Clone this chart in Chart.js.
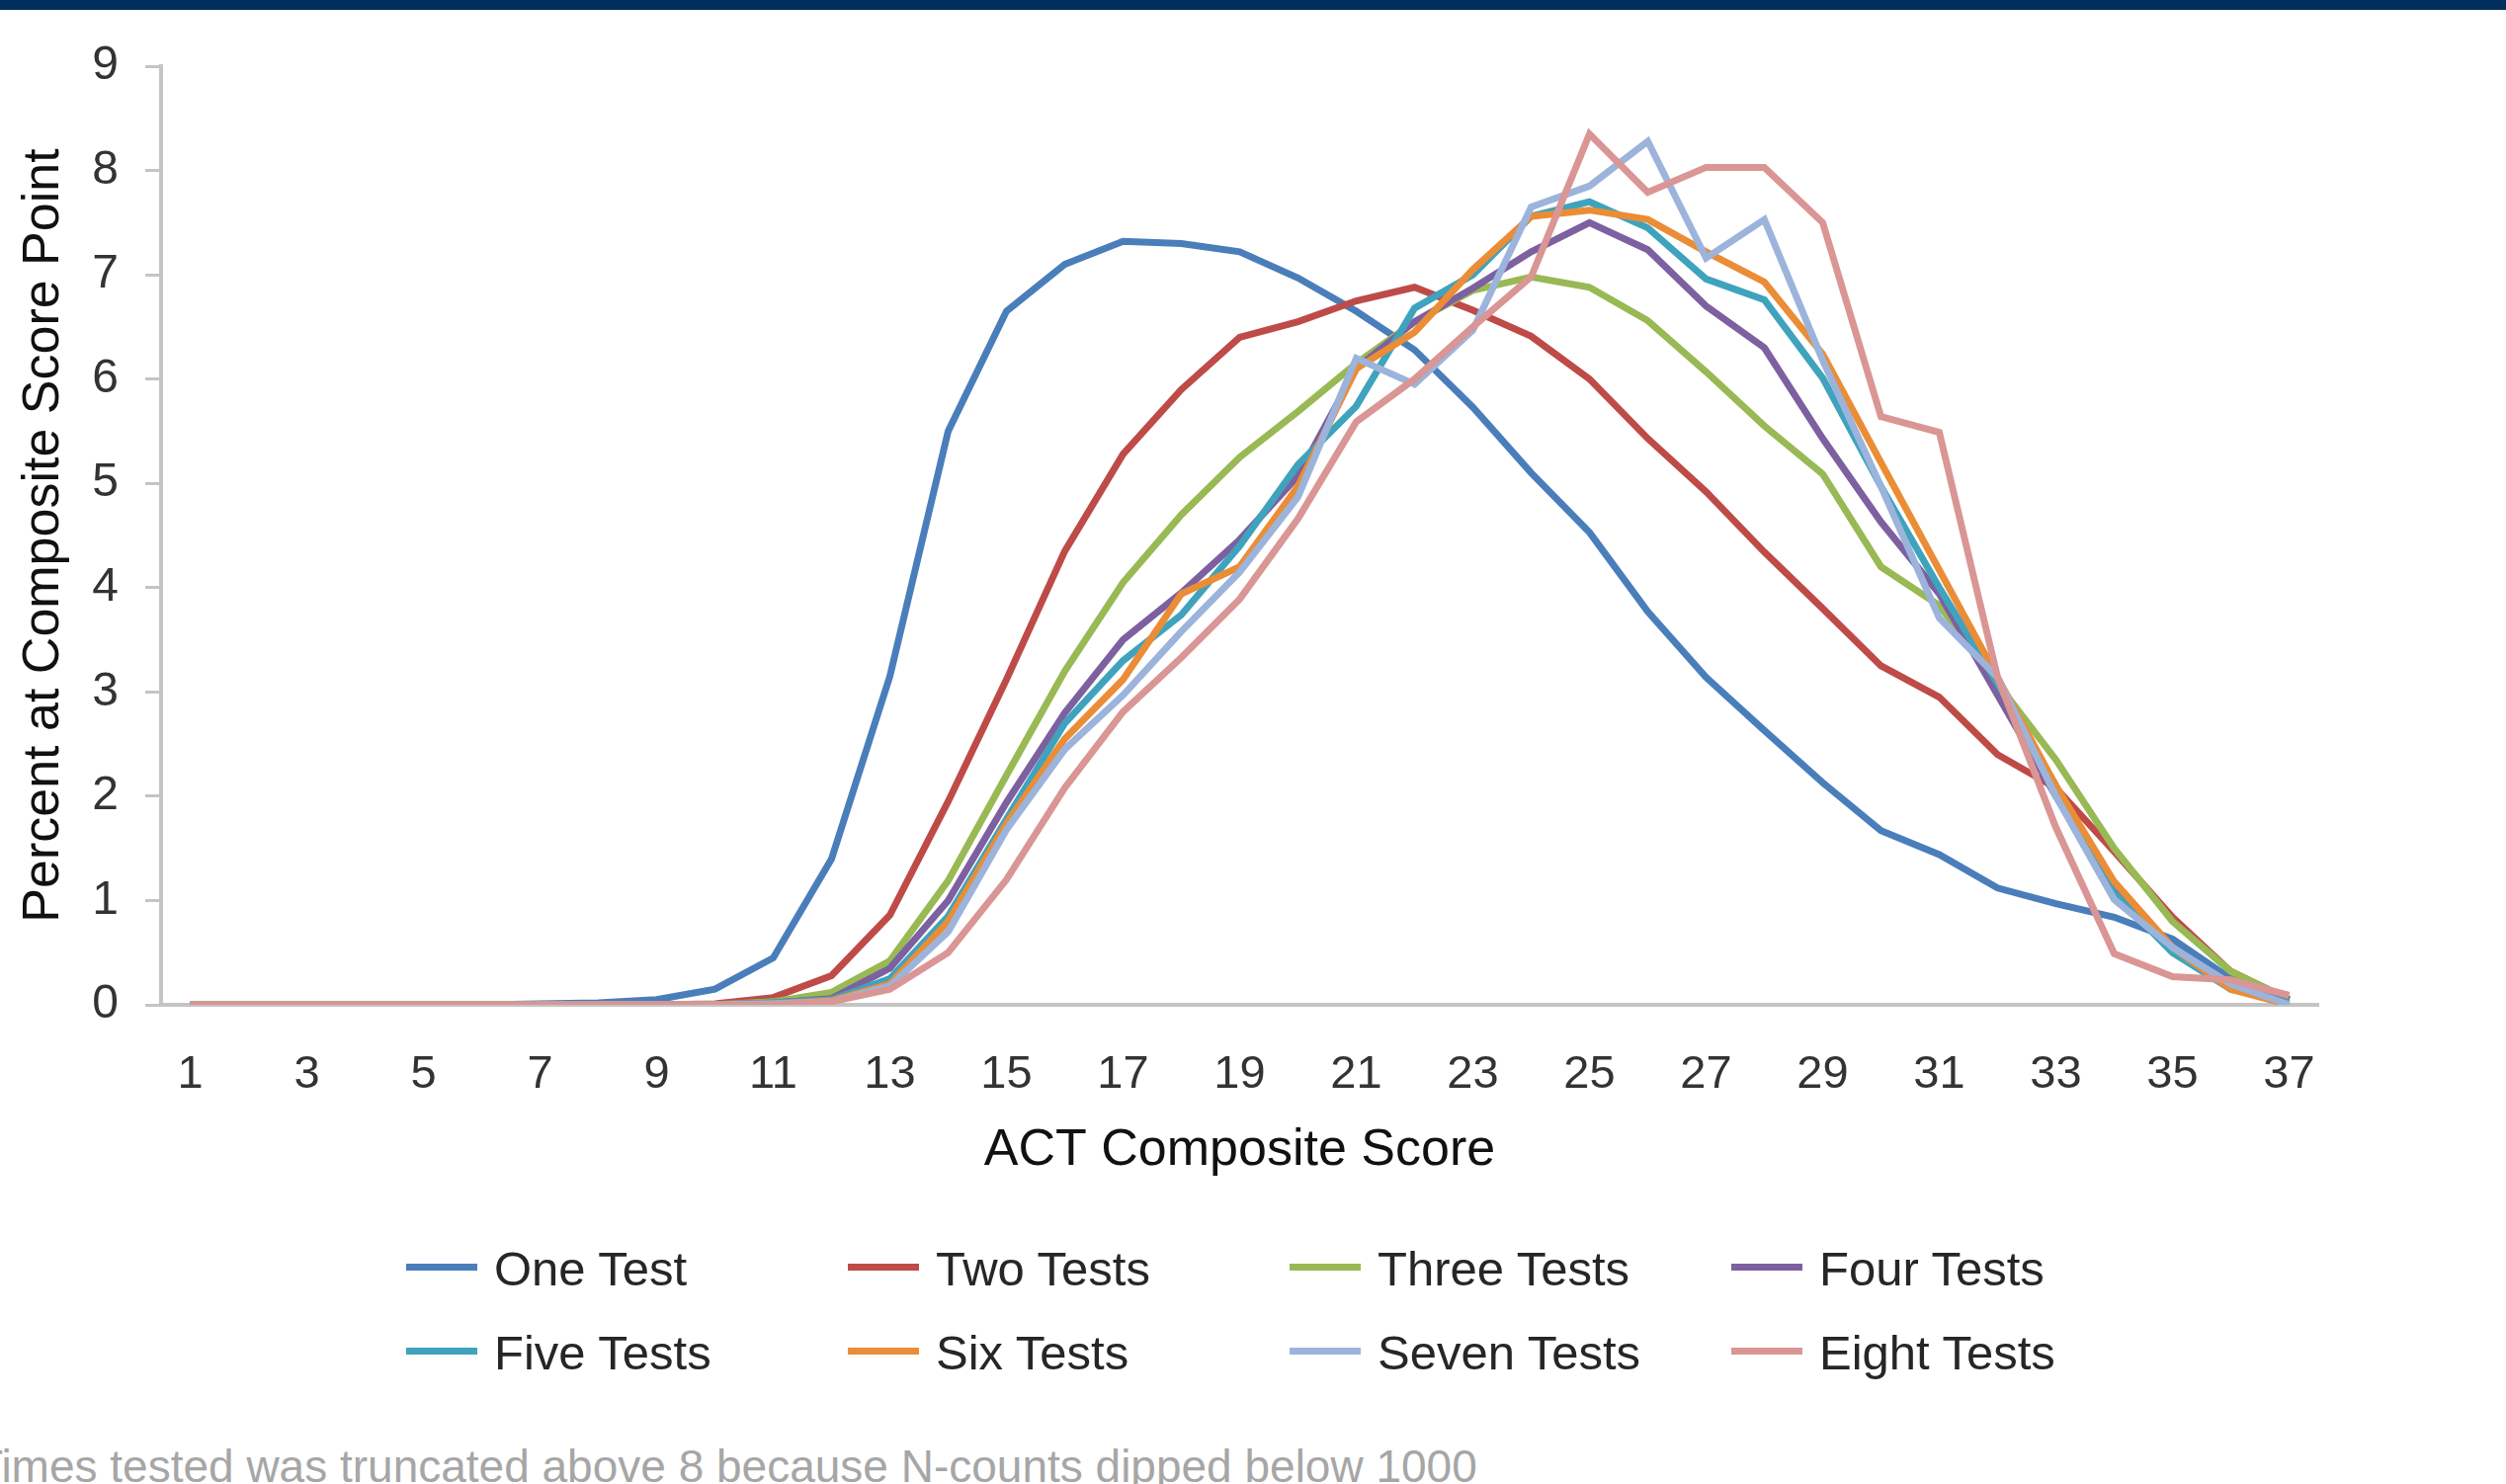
<!DOCTYPE html>
<html>
<head>
<meta charset="utf-8">
<title>ACT Composite Score by times tested</title>
<script src="https://cdn.jsdelivr.net/npm/chart.js@4.4.1/dist/chart.umd.min.js"></script>
<style>
  body {
    margin: 0;
    width: 2536px;
    height: 1502px;
    overflow: hidden;
    background: #ffffff;
    position: relative;
    font-family: 'Liberation Sans', Arial, sans-serif;
  }
  #topBar {
    position: absolute;
    left: 0;
    top: 0;
    width: 2536px;
    height: 10px;
    background: #002e5e;
  }
  #chartBox {
    position: absolute;
    left: 0;
    top: 0;
    width: 2536px;
    height: 1210px;
  }
  #legend {
    position: absolute;
    left: 411px;
    top: 1242px;
    display: grid;
    grid-template-columns: repeat(4, 447px);
    grid-auto-rows: 85px;
  }
  .legendItem {
    display: flex;
    align-items: center;
  }
  .legendLine {
    width: 72px;
    height: 7px;
    margin-right: 17px;
    margin-top: -4px;
  }
  .legendText {
    font-size: 49px;
    line-height: 1;
    color: #262626;
    white-space: nowrap;
  }
  #note {
    position: absolute;
    left: -25px;
    top: 1461px;
    font-size: 46px;
    line-height: 46px;
    color: #a6a6a6;
    white-space: nowrap;
  }
</style>
</head>
<body>
<div id="topBar"></div>
<div id="chartBox"><canvas id="actChart"></canvas></div>
<div id="legend"></div>
<div id="note">Times tested was truncated above 8 because N-counts dipped below 1000</div>

<script>
// ACT composite score distribution, one line per number of times tested

const scores = [1, 2, 3, 4, 5, 6, 7, 8, 9, 10, 11, 12, 13, 14, 15, 16, 17, 18, 19,
    20, 21, 22, 23, 24, 25, 26, 27, 28, 29, 30, 31, 32, 33, 34, 35, 36, 37];

const seriesNames = ["One Test", "Two Tests", "Three Tests", "Four Tests",
    "Five Tests", "Six Tests", "Seven Tests", "Eight Tests"];

const seriesColors = ["#4a7ebb", "#be4b48", "#98b954", "#7d60a0",
    "#3fa3bd", "#ea8d36", "#9cb4db", "#d99694"];

// percent at each composite score point (scores 1..37)
const oneTest = [0, 0, 0, 0, 0, 0, 0.01, 0.02, 0.05, 0.15, 0.45, 1.4, 3.15, 5.5, 6.65, 7.1, 7.32, 7.3, 7.22,
    6.97, 6.65, 6.28, 5.73, 5.1, 4.53, 3.77, 3.14, 2.63, 2.13, 1.67, 1.44, 1.12, 0.97, 0.84, 0.63, 0.25, 0.05];
const twoTests = [0, 0, 0, 0, 0, 0, 0, 0, 0, 0.01, 0.07, 0.28, 0.86, 1.95, 3.12, 4.35, 5.28, 5.9, 6.4,
    6.55, 6.75, 6.88, 6.66, 6.41, 6.0, 5.43, 4.92, 4.34, 3.8, 3.25, 2.95, 2.4, 2.08, 1.47, 0.84, 0.32, 0.05];
const threeTests = [0, 0, 0, 0, 0, 0, 0, 0, 0, 0, 0.03, 0.12, 0.42, 1.19, 2.2, 3.2, 4.05, 4.7, 5.25,
    5.69, 6.15, 6.55, 6.85, 6.98, 6.88, 6.56, 6.07, 5.55, 5.09, 4.2, 3.83, 3.08, 2.35, 1.5, 0.8, 0.32, 0.05];
const fourTests = [0, 0, 0, 0, 0, 0, 0, 0, 0, 0, 0.02, 0.06, 0.35, 1.0, 1.94, 2.8, 3.5, 3.95, 4.46,
    5.07, 6.1, 6.55, 6.87, 7.22, 7.5, 7.24, 6.7, 6.3, 5.43, 4.63, 3.94, 2.97, 2.0, 1.13, 0.55, 0.2, 0.05];
const fiveTests = [0, 0, 0, 0, 0, 0, 0, 0, 0, 0, 0.02, 0.05, 0.25, 0.85, 1.78, 2.7, 3.3, 3.74, 4.4,
    5.18, 5.74, 6.68, 7.0, 7.56, 7.7, 7.45, 6.96, 6.76, 6.01, 4.97, 4.0, 3.08, 2.1, 1.07, 0.5, 0.15, 0.02];
const sixTests = [0, 0, 0, 0, 0, 0, 0, 0, 0, 0, 0.01, 0.04, 0.2, 0.8, 1.74, 2.55, 3.12, 3.94, 4.2,
    4.97, 6.1, 6.45, 7.05, 7.56, 7.62, 7.53, 7.22, 6.93, 6.24, 5.2, 4.17, 3.14, 2.1, 1.18, 0.55, 0.15, 0];
const sevenTests = [0, 0, 0, 0, 0, 0, 0, 0, 0, 0, 0.01, 0.03, 0.18, 0.7, 1.68, 2.45, 2.97, 3.58, 4.15,
    4.87, 6.2, 5.95, 6.47, 7.65, 7.85, 8.28, 7.16, 7.53, 6.18, 4.97, 3.71, 3.14, 2.0, 1.01, 0.55, 0.2, 0];
const eightTests = [0, 0, 0, 0, 0, 0, 0, 0, 0, 0, 0, 0.03, 0.15, 0.5, 1.2, 2.08, 2.81, 3.33, 3.89,
    4.66, 5.59, 6.0, 6.5, 6.98, 8.35, 7.79, 8.03, 8.03, 7.5, 5.64, 5.49, 3.14, 1.7, 0.49, 0.27, 0.24, 0.09];

const seriesValues = [oneTest, twoTests, threeTests, fourTests, fiveTests, sixTests, sevenTests, eightTests];

const yTicks = [0, 1, 2, 3, 4, 5, 6, 7, 8, 9];

const fontFamily = "'Liberation Sans', Arial, sans-serif";
Chart.defaults.font.family = fontFamily;

const axisGrey = "#c4c4c4";

const dataSets = seriesNames.map(function (name, i) {
    return {
        label: name,
        data: seriesValues[i],
        borderColor: seriesColors[i],
        backgroundColor: seriesColors[i],
        borderWidth: 7,
        pointRadius: 0,
        tension: 0,
        fill: false,
        order: seriesNames.length - i // later series drawn on top, like the original
    };
});

const actChart = new Chart("actChart", {
    type: "line",
    data: {
        labels: scores,
        datasets: dataSets
    },
    options: {
        responsive: true,
        maintainAspectRatio: false,
        animation: false,
        layout: {
            padding: {left: 0, top: 67, right: 190, bottom: 0}
        },
        plugins: {
            legend: {display: false},
            tooltip: {enabled: false}
        },
        scales: {
            x: {
                type: "category",
                offset: true,
                grid: {display: false, drawTicks: false, tickLength: 0},
                border: {display: true, color: axisGrey, width: 4},
                ticks: {
                    autoSkip: false,
                    maxRotation: 0,
                    padding: 43,
                    color: "#333333",
                    font: {size: 47},
                    // only every other score gets a label
                    callback: function (value, index) {
                        return index % 2 === 0 ? scores[index] : "";
                    }
                },
                title: {
                    display: true,
                    text: "ACT Composite Score",
                    color: "#111111",
                    font: {size: 52},
                    padding: {top: 0, bottom: 14}
                },
                afterFit: function (axis) {
                    axis.height = 193;
                }
            },
            y: {
                min: yTicks[0],
                max: yTicks[yTicks.length - 1],
                afterBuildTicks: function (axis) {
                    axis.ticks = yTicks.map(function (v) { return {value: v}; });
                },
                grid: {
                    display: true,
                    drawOnChartArea: false,
                    drawTicks: true,
                    tickLength: 16,
                    color: axisGrey,
                    lineWidth: 3
                },
                border: {display: true, color: axisGrey, width: 4},
                ticks: {
                    padding: 27,
                    color: "#333333",
                    font: {size: 48}
                },
                title: {
                    display: true,
                    text: "Percent at Composite Score Point",
                    color: "#111111",
                    font: {size: 52},
                    padding: {top: 13}
                },
                afterFit: function (axis) {
                    axis.width = 163;
                }
            }
        }
    }
});

// legend: 4 columns x 2 rows, built from the chart's datasets
const legendBox = document.getElementById("legend");
actChart.data.datasets.forEach(function (ds) {
    const item = document.createElement("div");
    item.className = "legendItem";
    const line = document.createElement("span");
    line.className = "legendLine";
    line.style.background = ds.borderColor;
    const txt = document.createElement("span");
    txt.className = "legendText";
    txt.textContent = ds.label;
    item.appendChild(line);
    item.appendChild(txt);
    legendBox.appendChild(item);
});
</script>
</body>
</html>
